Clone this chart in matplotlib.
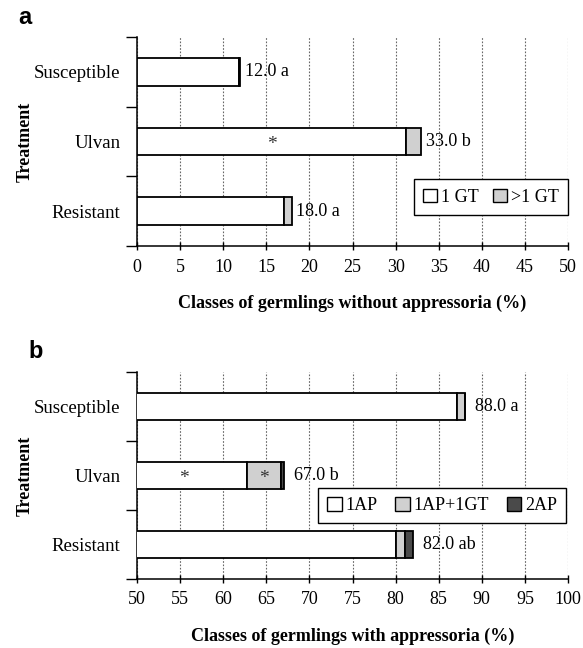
import matplotlib
matplotlib.use("Agg")
import matplotlib.pyplot as plt
from matplotlib.patches import Patch
import numpy as np

categories = ["Susceptible", "Ulvan", "Resistant"]

# Panel a: germlings without appressoria
a_one_gt = [11.8, 31.2, 17.1]
a_more_gt = [0.2, 1.8, 0.9]
a_totals = [12.0, 33.0, 18.0]
a_letters = ["a", "b", "a"]
a_star = [False, True, False]

# Panel b: germlings with appressoria
b_one_ap = [87.1, 62.8, 80.1]
b_ap_gt = [0.9, 3.9, 1.0]
b_two_ap = [0.0, 0.3, 0.9]
b_totals = [88.0, 67.0, 82.0]
b_letters = ["a", "b", "ab"]
b_star_white = [False, True, False]
b_star_gray = [False, True, False]

serif = "Liberation Serif"
plt.rcParams["font.family"] = serif

fig = plt.figure(figsize=(5.83, 6.48), dpi=100)
W, H = 583, 648

def make_ax(top_px, bottom_px):
    left_px, right_px = 137, 568
    return fig.add_axes([left_px / W, 1 - bottom_px / H,
                         (right_px - left_px) / W, (bottom_px - top_px) / H])

ax_a = make_ax(37, 246)
ax_b = make_ax(372, 579)

ypos = np.arange(len(categories))
bar_h = 0.4
edge = dict(edgecolor="black", linewidth=1.3)
c_white, c_gray, c_dark = "white", "#d0d0d0", "#4a4a4a"

def style(ax, xmin, xmax, xlabel):
    ax.set_xlim(xmin, xmax)
    ax.set_ylim(len(categories) - 0.5, -0.5)
    ax.set_xticks(np.arange(xmin, xmax + 1, 5))
    ax.set_yticks(ypos, categories)
    ax.set_yticks(np.arange(-0.5, len(categories)), minor=True)
    ax.tick_params(axis="y", which="major", length=0, pad=12, labelsize=13.5)
    ax.tick_params(axis="y", which="minor", length=8, width=1, direction="out")
    ax.tick_params(axis="x", length=6, width=1, direction="inout", labelsize=13, pad=6)
    for s in ["top", "right"]:
        ax.spines[s].set_visible(False)
    for s in ["left", "bottom"]:
        ax.spines[s].set_linewidth(1.1)
    ax.xaxis.grid(True, linestyle=(0, (1.5, 1.5)), color="#666666", linewidth=0.8)
    ax.set_axisbelow(True)
    ax.set_xlabel(xlabel, fontsize=13, fontweight="bold", labelpad=14)
    ax.set_ylabel("Treatment", fontsize=13, fontweight="bold")
    ax.yaxis.set_label_coords(-0.24, 0.5)

# Panel a
ax_a.barh(ypos, a_one_gt, height=bar_h, color=c_white, **edge, zorder=3)
ax_a.barh(ypos, a_more_gt, left=a_one_gt, height=bar_h, color=c_gray, **edge, zorder=3)
for i in range(len(categories)):
    ax_a.text(a_totals[i] + 0.5, ypos[i], f"{a_totals[i]:.1f} {a_letters[i]}",
              va="center", ha="left", fontsize=13, zorder=4)
    if a_star[i]:
        ax_a.text(a_one_gt[i] / 2, ypos[i] + 0.05, "*", ha="center", va="center",
                  fontsize=14, color="#333333", zorder=4)
style(ax_a, 0, 50, "Classes of germlings without appressoria (%)")
h_a = [Patch(facecolor=c_white, edgecolor="black", label="1 GT"),
       Patch(facecolor=c_gray, edgecolor="black", label=">1 GT")]
leg = ax_a.legend(handles=h_a, ncol=2, loc="center", bbox_to_anchor=(0.821, 0.234),
                  fontsize=13, frameon=True, fancybox=False, edgecolor="black",
                  framealpha=1, handlelength=0.8, handleheight=0.8, handletextpad=0.2,
                  columnspacing=0.8, borderpad=0.5)
leg.get_frame().set_linewidth(1.0)
leg.set_zorder(5)

# Panel b
left2 = [o + g for o, g in zip(b_one_ap, b_ap_gt)]
ax_b.barh(ypos, b_one_ap, height=bar_h, color=c_white, **edge, zorder=3)
ax_b.barh(ypos, b_ap_gt, left=b_one_ap, height=bar_h, color=c_gray, **edge, zorder=3)
ax_b.barh(ypos, b_two_ap, left=left2, height=bar_h, color=c_dark, **edge, zorder=3)
xmin_b = 50
for i in range(len(categories)):
    ax_b.text(b_totals[i] + 1.2, ypos[i], f"{b_totals[i]:.1f} {b_letters[i]}",
              va="center", ha="left", fontsize=13, zorder=4)
    if b_star_white[i]:
        ax_b.text((xmin_b + b_one_ap[i]) / 2 - 1, ypos[i] + 0.05, "*", ha="center",
                  va="center", fontsize=14, color="#333333", zorder=4)
    if b_star_gray[i]:
        ax_b.text(b_one_ap[i] + b_ap_gt[i] / 2, ypos[i] + 0.05, "*", ha="center",
                  va="center", fontsize=14, color="#333333", zorder=4)
style(ax_b, 50, 100, "Classes of germlings with appressoria (%)")
h_b = [Patch(facecolor=c_white, edgecolor="black", label="1AP"),
       Patch(facecolor=c_gray, edgecolor="black", label="1AP+1GT"),
       Patch(facecolor=c_dark, edgecolor="black", label="2AP")]
leg2 = ax_b.legend(handles=h_b, ncol=3, loc="center", bbox_to_anchor=(0.708, 0.355),
                   fontsize=13, frameon=True, fancybox=False, edgecolor="black",
                   framealpha=1, handlelength=0.8, handleheight=0.8, handletextpad=0.2,
                   columnspacing=1.0, borderpad=0.5)
leg2.get_frame().set_linewidth(1.0)
leg2.set_zorder(5)

fig.text(18 / W, 1 - 18 / H, "a", fontsize=17, fontweight="bold",
         family="Liberation Sans", ha="left", va="center")
fig.text(28 / W, 1 - 352 / H, "b", fontsize=17, fontweight="bold",
         family="Liberation Sans", ha="left", va="center")

fig.savefig("out.png", dpi=100)
